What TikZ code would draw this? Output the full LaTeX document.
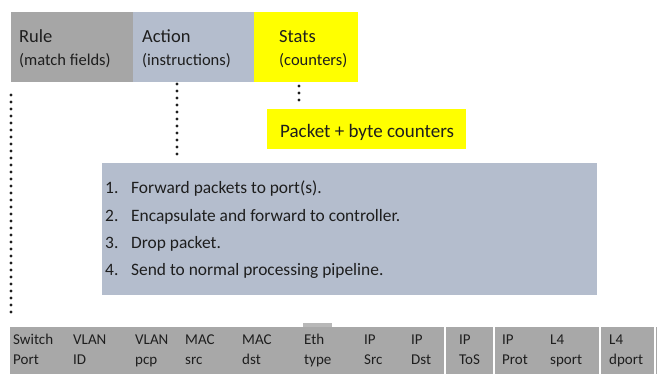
\documentclass[tikz,border=0pt]{standalone}
\usepackage{fontspec}
\setmainfont{Carlito}
\usetikzlibrary{calc}

\definecolor{rulegray}{RGB}{166,166,166}
\definecolor{actblue}{RGB}{180,189,205}
\definecolor{statyel}{RGB}{255,255,0}
\definecolor{ink}{RGB}{30,30,30}
\definecolor{fieldgray}{RGB}{168,168,168}

\tikzset{
  panel/.style={inner sep=0pt, outer sep=0pt},
  dotline/.style={line width=3.3pt, line cap=round, dash pattern=on 0pt off 7pt, ink},
  title/.style={anchor=base west, inner sep=0pt, text=ink, font=\fontsize{18.5}{20}\selectfont},
  subtitle/.style={anchor=base west, inner sep=0pt, text=ink, font=\fontsize{16.5}{18}\selectfont},
  item/.style={anchor=base west, inner sep=0pt, text=ink, font=\fontsize{17.4}{20}\selectfont},
  cell/.style={anchor=base west, inner sep=0pt, text=ink, font=\fontsize{15}{16}\selectfont},
}

\begin{document}
\begin{tikzpicture}[x=1pt, y=-1pt]
  \useasboundingbox (0,0) rectangle (657,374);

  % flow-table entry header: rule | action | stats
  \fill[rulegray] (11,12) rectangle (133,82);
  \fill[actblue]  (133,12) rectangle (254,82);
  \fill[statyel]  (254,12) rectangle (358,82);
  \node[panel, minimum width=122pt, minimum height=70pt] (rule)   at (72,47) {};
  \node[panel, minimum width=121pt, minimum height=70pt] (action) at (193.5,47) {};
  \node[panel, minimum width=104pt, minimum height=70pt] (stats)  at (306,47) {};

  \node[title]    (ruleT)   at (19,43)  {Rule};
  \node[subtitle] (ruleS)   at (19,66)  {(match fields)};
  \node[title]    (actionT) at (142,43) {Action};
  \node[subtitle] (actionS) at (142,66) {(instructions)};
  \node[title]    (statsT)  at (279,43) {Stats};
  \node[subtitle] (statsS)  at (279,66) {(counters)};

  % counters box
  \fill[statyel] (267,109) rectangle (466,149);
  \node[panel, minimum width=199pt, minimum height=40pt] (pkt) at (366.5,129) {};
  \node[anchor=base west, inner sep=0pt, text=ink, font=\fontsize{19}{20}\selectfont]
    (pktT) at (280,138) {Packet + byte counters};

  % list of actions
  \fill[actblue] (102,163) rectangle (597,295);
  \node[panel, minimum width=495pt, minimum height=132pt] (acts) at (349.5,229) {};
  \node[item] (n1) at (105,194) {1.};
  \node[item] (t1) at (131,194) {Forward packets to port(s).};
  \node[item] (n2) at (105,222) {2.};
  \node[item] (t2) at (131,222) {Encapsulate and forward to controller.};
  \node[item] (n3) at (105,249) {3.};
  \node[item] (t3) at (131,249) {Drop packet.};
  \node[item] (n4) at (105,276) {4.};
  \node[item] (t4) at (131,276) {Send to normal processing pipeline.};

  % match-field header row
  \fill[fieldgray] (10,327) rectangle (657,374);
  \fill[rulegray!80!white] (303,323) rectangle (332,327);
  \node[panel, minimum width=647pt, minimum height=47pt] (fields) at (333.5,350.5) {};
  \foreach \xx in {445,494,600,655}
    \draw[white, line width=1.5pt] (\xx,327) -- (\xx,374);

  \foreach \xx/\a/\b [count=\i] in {
      13/Switch/Port, 73/VLAN/ID, 135/VLAN/pcp, 185/MAC/src, 242/MAC/dst,
      304/Eth/type, 364/IP/Src, 411/IP/Dst, 459/IP/ToS, 502/IP/Prot,
      550/L4/sport, 609/L4/dport} {
    \node[cell] (f\i a) at (\xx,345) {\a};
    \node[cell] (f\i b) at (\xx,365) {\b};
  }

  % dotted leaders (yshift is in page direction: negative moves down)
  \draw[dotline] ([yshift=-13pt]rule.south west) -- ([yshift=9pt]rule.south west |- fields.north);
  \draw[dotline] ([xshift=44pt, yshift=-2pt]action.south west) -- ([xshift=44pt, yshift=6pt]action.south west |- acts.north);
  \draw[dotline] ([xshift=45pt, yshift=-4pt]stats.south west) -- ([xshift=45pt, yshift=4pt]stats.south west |- pkt.north);
\end{tikzpicture}
\end{document}
